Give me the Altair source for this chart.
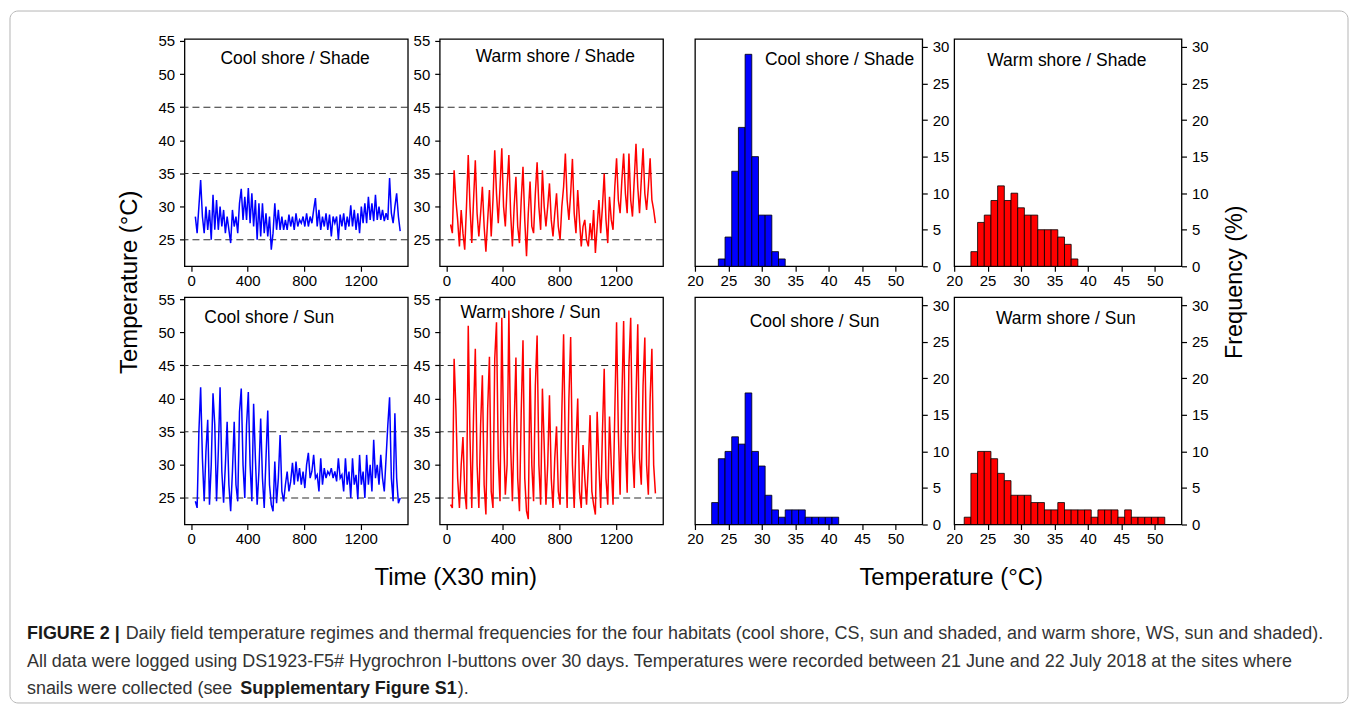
import altair as alt
import numpy as np
import pandas as pd

FONT = "Liberation Sans"

# ---------------- data ----------------
# half-hour sampling index of the logger readings (x axis)
time_index = list(np.linspace(30, 1480, 117))

cs_shade = [28.5, 26, 30, 34, 28.5, 26, 30, 26.5, 29.5, 25, 31.8, 26.5, 31, 26.5, 30, 27,
            29.5, 26, 28.5, 26.5, 24.5, 29.5, 27, 28.5, 26, 30.5, 32.7, 28, 31.5, 28, 32.8, 27.5,
            32, 27, 31, 25, 30.5, 25.5, 30.5, 26, 29, 25.5, 28.5, 23.5, 26, 30.5, 26.5, 29.5,
            26.5, 28.5, 26.5, 28, 26.5, 28.8, 27, 28.5, 26.5, 29, 27, 28, 27.5, 28.5, 27, 29,
            27, 28.5, 27.5, 29.5, 31.3, 27, 29.5, 26.5, 28.5, 27, 29, 26.5, 28.8, 25.5, 28.5, 27.5,
            28.5, 25, 28.8, 27, 29, 26.5, 28.5, 27, 30.2, 27, 29.5, 26.5, 29, 26, 30, 27.5,
            30.5, 27.5, 31.5, 28, 30.5, 27.8, 31.8, 28, 30, 28, 29.5, 27.8, 29, 28, 34.3, 29,
            27.5, 30, 32, 28.5, 26.3]

ws_shade = [27.3, 26, 35.5, 31, 28, 24, 29.5, 26, 23.5, 30, 37.8, 30, 24.5, 31, 37, 29,
            25.5, 29, 33, 27, 23.2, 28, 32.5, 25.5, 31, 38.5, 32, 27.5, 33, 38.8, 30, 27,
            33, 37.8, 29, 24, 30, 34.5, 27, 24.5, 31, 36, 28, 22.5, 29, 33.8, 27, 26,
            32, 36.7, 30, 26.5, 35.5, 30, 27, 30, 33.5, 28, 25.5, 29, 32, 27, 25, 30,
            33, 38, 31, 28, 32, 37.2, 29, 26, 32.5, 28, 24, 27, 28, 25, 24, 27.5,
            25, 29.5, 23, 27, 31, 26, 30, 35, 28, 24.5, 31.5, 28, 26.5, 33, 37.3, 31,
            29, 34, 38, 32, 29, 38, 31, 28.5, 34, 39.5, 33, 29, 34, 38.8, 32, 29.5,
            33, 37.3, 31, 29.5, 27.5]

cs_sun = [24.5, 23.5, 35, 41.7, 31, 24.5, 32, 36.8, 24, 30, 40.8, 36, 24.5, 32, 41.7, 29,
          24.3, 30, 36.5, 27, 23, 29, 36.5, 27, 24.5, 38, 41.5, 30, 25, 36, 41, 30,
          24.5, 39.2, 31, 24, 29, 37, 28, 23.5, 31, 38.2, 27, 24, 23, 30.5, 24.2, 28,
          34.5, 26, 24.5, 27, 29, 26, 27.5, 30.3, 27, 30.5, 27.5, 29.5, 27, 29, 26.5, 30,
          31.8, 28, 29, 31.5, 28, 28.5, 26, 31, 27, 29.5, 28, 29, 28.5, 29.5, 28, 29,
          27.5, 31, 28, 28.5, 26, 31, 27, 29, 25, 31, 27, 28.5, 24.8, 31.5, 27, 29,
          25, 31.5, 27, 30, 26, 33.8, 28, 30, 27, 31.5, 28, 26, 31, 36, 40.2, 28,
          24.5, 37.8, 28, 24.2, 25]

ws_sun = [24, 23.5, 46, 38.5, 28, 23.5, 30, 34.2, 26, 23.3, 51, 34, 23.5, 37.5, 47.5, 30,
          23.5, 36, 43.5, 27, 22.5, 38.5, 46.3, 26, 23.5, 46, 51.5, 31, 24.5, 52.2, 35, 25.5,
          30, 53.3, 33, 24.5, 36, 46.2, 28, 23, 38, 48.8, 28, 23, 21.8, 44.6, 30, 24.5,
          42, 49.5, 30, 24, 41.5, 33, 24, 30, 40.5, 28, 23.5, 31, 35.8, 26, 24, 38,
          49.7, 32, 23.5, 40, 49.3, 30, 23.5, 33, 40, 26, 23.5, 33, 28, 24, 30, 37.5,
          26, 24, 22.5, 38, 30, 23.5, 35, 44.5, 28, 24, 37.3, 30, 24, 38, 51.5, 35,
          25.5, 40, 51.7, 33, 25.8, 45, 52.2, 32, 26.5, 40, 51.2, 31, 27, 42, 49.2, 30,
          25.5, 40, 47.5, 30, 25.7]

ref_levels = [25, 35, 45]

# histogram bins (1 degC wide, bin centres) and frequencies (%)
cs_shade_bins = [24, 25, 26, 27, 28, 29, 30, 31, 32, 33]
cs_shade_freq = [1, 4, 13, 19, 29, 15, 7, 7, 2, 1]
ws_shade_bins = [23, 24, 25, 26, 27, 28, 29, 30, 31, 32, 33, 34, 35, 36, 37, 38]
ws_shade_freq = [2, 6, 7, 9, 11, 9, 10, 8, 7, 7, 5, 5, 5, 4, 3, 1]
cs_sun_bins = [23, 24, 25, 26, 27, 28, 29, 30, 31, 32, 33, 34, 35, 36, 37, 38, 39, 40, 41]
cs_sun_freq = [3, 9, 10, 12, 11, 18, 10, 8, 4, 2, 1, 2, 2, 2, 1, 1, 1, 1, 1]
ws_sun_bins = [22, 23, 24, 25, 26, 27, 28, 29, 30, 31, 32, 33, 34, 35, 36, 37, 38, 39, 40,
               41, 42, 43, 44, 45, 46, 47, 48, 49, 50, 51]
ws_sun_freq = [1, 7, 10, 10, 9, 7, 6, 4, 4, 4, 3, 3, 2, 2, 3, 2, 2, 2, 2,
               1, 2, 2, 2, 1, 2, 1, 1, 1, 1, 1]

time_ticks = [0, 400, 800, 1200]
temp_ticks = [25, 30, 35, 40, 45, 50, 55]
hist_x_ticks = [20, 25, 30, 35, 40, 45, 50]
freq_ticks = [0, 5, 10, 15, 20, 25, 30]

BLUE = "#0000FF"
RED = "#FF0000"
TS_W, TS_H = 224, 228
H_W, H_H = 228, 228


def text_layer(txt, x, y, size=17.5, angle=0, weight="normal", color="black", align="center"):
    return alt.Chart(pd.DataFrame({"txt": [txt]})).mark_text(
        font=FONT, fontSize=size, angle=angle, fontWeight=weight, color=color,
        align=align, baseline="middle"
    ).encode(text="txt:N", x=alt.value(x), y=alt.value(y))


def ts_panel(vals, color, title, tx, ty, extra=None):
    df = pd.DataFrame({"t": time_index, "temp": vals})
    xenc = alt.X("t:Q", scale=alt.Scale(domain=[-47, 1534], nice=False, zero=False),
                 axis=alt.Axis(values=time_ticks, title=None, orient="bottom", format="d"))
    yenc = alt.Y("temp:Q", scale=alt.Scale(domain=[21, 55.3], nice=False, zero=False),
                 axis=alt.Axis(values=temp_ticks, title=None, orient="left", labelPadding=5))
    rules = alt.Chart(pd.DataFrame({"temp": ref_levels})).mark_rule(
        color="#2e2e2e", strokeDash=[7, 4], strokeWidth=1.1).encode(y=yenc)
    line = alt.Chart(df).mark_line(color=color, strokeWidth=1.5).encode(x=xenc, y=yenc)
    layers = [rules, line, text_layer(title, tx, ty)] + (extra or [])
    return alt.layer(*layers).properties(width=TS_W, height=TS_H)


def hist_panel(bins, freq, color, title, tx, ty):
    df = pd.DataFrame({"bin": bins, "freq": freq})
    df["lo"] = df["bin"] - 0.5
    df["hi"] = df["bin"] + 0.5
    df["base"] = 0
    bars = alt.Chart(df).mark_rect(color=color, stroke="black", strokeWidth=0.8).encode(
        x=alt.X("lo:Q", scale=alt.Scale(domain=[20, 54], nice=False, zero=False),
                axis=alt.Axis(values=hist_x_ticks, title=None, orient="bottom", format="d")),
        x2="hi:Q",
        y=alt.Y("freq:Q", scale=alt.Scale(domain=[0, 31.1], nice=False, zero=False),
                axis=alt.Axis(values=freq_ticks, title=None, orient="right", labelPadding=5)),
        y2="base:Q",
    )
    return alt.layer(bars, text_layer(title, tx, ty)).properties(width=H_W, height=H_H)


# annotations drawn relative to the top-left panel
frame = alt.Chart(pd.DataFrame({"a": [0]})).mark_rect(
    fillOpacity=0, stroke="#b5b5b5", strokeWidth=1, cornerRadius=8
).encode(x=alt.value(-175), x2=alt.value(1167), y=alt.value(-28), y2=alt.value(666))

CAP = 18
CAP_COLOR = "#333333"
annotations = [
    frame,
    text_layer("Temperature (°C)", -55, 244, size=24, angle=270),
    text_layer("Time (X30 min)", 272, 541, size=24),
    text_layer("Temperature (°C)", 769, 541, size=24),
    text_layer("Frequency (%)", 1054, 244, size=23.5, angle=270),
    text_layer("FIGURE 2 |", -158, 597, size=CAP, weight="bold", color="#1a1a1a", align="left"),
    text_layer("Daily field temperature regimes and thermal frequencies for the four habitats "
               "(cool shore, CS, sun and shaded, and warm shore, WS, sun and shaded).",
               -59, 597, size=CAP, color=CAP_COLOR, align="left"),
    text_layer("All data were logged using DS1923-F5# Hygrochron I-buttons over 30 days. "
               "Temperatures were recorded between 21 June and 22 July 2018 at the sites where",
               -158, 625, size=CAP, color=CAP_COLOR, align="left"),
    text_layer("snails were collected (see", -158, 652, size=CAP, color=CAP_COLOR, align="left"),
    text_layer("Supplementary Figure S1", 56, 652, size=CAP, weight="bold", color="#1a1a1a",
               align="left"),
    text_layer(").", 274, 652, size=CAP, color=CAP_COLOR, align="left"),
]

ts1 = ts_panel(cs_shade, BLUE, "Cool shore / Shade", 111, 20, annotations)
ts2 = ts_panel(ws_shade, RED, "Warm shore / Shade", 116, 18)
h1 = hist_panel(cs_shade_bins, cs_shade_freq, BLUE, "Cool shore / Shade", 145, 21)
h2 = hist_panel(ws_shade_bins, ws_shade_freq, RED, "Warm shore / Shade", 113, 22)
ts3 = ts_panel(cs_sun, BLUE, "Cool shore / Sun", 85, 21)
ts4 = ts_panel(ws_sun, RED, "Warm shore / Sun", 91, 16)
h3 = hist_panel(cs_sun_bins, cs_sun_freq, BLUE, "Cool shore / Sun", 120, 25)
h4 = hist_panel(ws_sun_bins, ws_sun_freq, RED, "Warm shore / Sun", 112, 22)

chart = alt.concat(
    ts1, ts2, h1, h2, ts3, ts4, h3, h4,
    columns=4, spacing={"row": 31, "column": 32}, bounds="flush",
).properties(
    padding=0, background="white"
).configure_view(
    stroke="black", strokeWidth=1.3
).configure_axis(
    labelFont=FONT, labelFontSize=15, labelColor="black", tickColor="black",
    tickSize=5, tickWidth=1.2, domain=False, grid=False, labelFlush=False
)

chart.save("out.html", embed_options={"renderer": "svg", "actions": False})
